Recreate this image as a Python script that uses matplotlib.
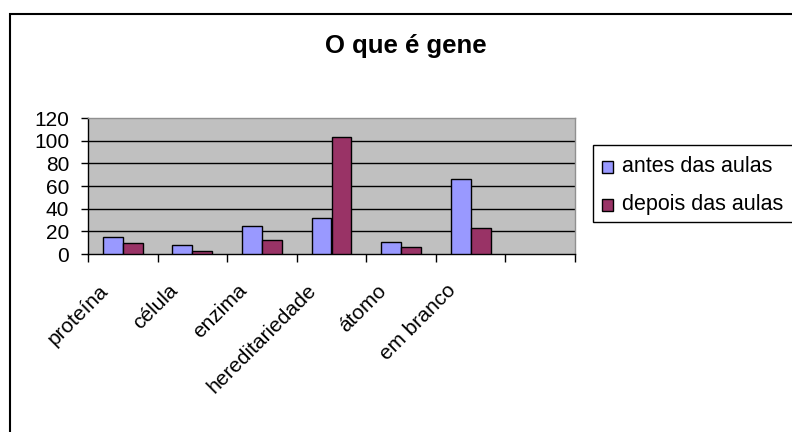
import matplotlib
matplotlib.use("Agg")
import matplotlib.pyplot as plt
from matplotlib.patches import Rectangle
from matplotlib.transforms import ScaledTranslation, blended_transform_factory
import numpy as np

categories = ["proteína", "célula", "enzima", "hereditariedade", "átomo", "em branco"]
antes = [15, 8, 25, 32, 11, 66]
depois = [10, 3, 12, 103, 6, 23]
series_names = ["antes das aulas", "depois das aulas"]
title = "O que é gene"
yticks = [0, 20, 40, 60, 80, 100, 120]

plt.rcParams['font.family'] = ['Liberation Sans', 'DejaVu Sans']

W, H = 792, 432
fig = plt.figure(figsize=(W / 100, H / 100), dpi=100)
fig.patch.set_facecolor("white")

def fx(px):
    return px / W

def fy(py):
    return 1 - py / H

# axes: plot area from x=88..575, y=118..254 px
ax = fig.add_axes([fx(88), fy(254), fx(575) - fx(88), (254 - 118) / H])
ax.set_facecolor("#C0C0C0")

n_slots = len(categories) + 1
w = 1 / 3.5
x = np.arange(len(categories)) + 0.5
colors = ["#9999FF", "#993366"]
ax.bar(x - w / 2, antes, width=w, color=colors[0], edgecolor="black", linewidth=1.0, zorder=3)
ax.bar(x + w / 2, depois, width=w, color=colors[1], edgecolor="black", linewidth=1.0, zorder=3)

ax.set_xlim(0, n_slots)
ax.set_ylim(0, 120)
ax.set_yticks(yticks)
ax.set_yticklabels([str(v) for v in yticks], fontsize=15)
for v in yticks[1:-1]:
    ax.axhline(v, color="black", linewidth=1.0, zorder=2)

ax.set_xticks(np.arange(n_slots + 1))
ax.set_xticklabels([])
ax.tick_params(axis="x", length=6, width=1, color="black", direction="out")
ax.tick_params(axis="y", length=5, width=1, color="black", direction="out", pad=8.5)

for side in ["left", "bottom"]:
    ax.spines[side].set_color("black")
    ax.spines[side].set_linewidth(1.0)
for side in ["top", "right"]:
    ax.spines[side].set_color("#909090")
    ax.spines[side].set_linewidth(1.0)

trans = blended_transform_factory(ax.transData, ax.transAxes)
off = ScaledTranslation(-11 / 100, -27 / 100, fig.dpi_scale_trans)
for xi, lab in zip(x, categories):
    ax.text(xi, 0, lab, rotation=45, ha="right", va="top", fontsize=15,
            transform=trans + off)

# title
fig.text(fx(406), fy(46), title, ha="center", va="center", fontsize=18.5, fontweight="bold")

# legend (manual)
fig.patches.append(Rectangle((fx(593), fy(222)), 0.5, (222 - 145) / H,
                             transform=fig.transFigure, facecolor="white",
                             edgecolor="black", linewidth=1.0, clip_on=False))
rows_y = [167, 204.5]
for name, c, yy in zip(series_names, colors, rows_y):
    fig.patches.append(Rectangle((fx(602), fy(yy + 6)), 11 / W, 12 / H,
                                 transform=fig.transFigure, facecolor=c,
                                 edgecolor="black", linewidth=1.0))
    fig.text(fx(622), fy(yy), name, ha="left", va="center", fontsize=15.5)

# outer chart border
fig.patches.append(Rectangle((fx(10), -0.1), 1.2, fy(14) + 0.1,
                             transform=fig.transFigure, facecolor="none",
                             edgecolor="black", linewidth=1.5, clip_on=False))

fig.savefig("out.png", dpi=100)
